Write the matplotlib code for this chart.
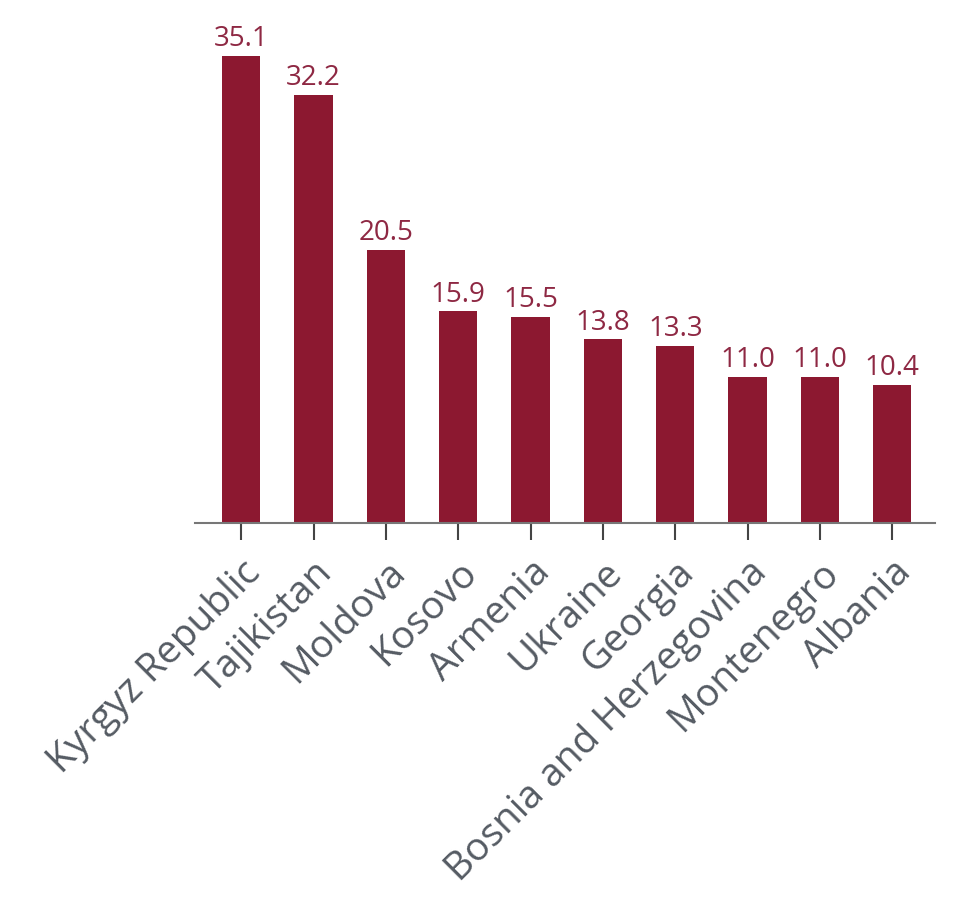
import matplotlib
matplotlib.use("Agg")
import matplotlib.pyplot as plt

countries = [
    "Kyrgyz Republic", "Tajikistan", "Moldova", "Kosovo", "Armenia",
    "Ukraine", "Georgia", "Bosnia and Herzegovina", "Montenegro", "Albania",
]
values = [35.1, 32.2, 20.5, 15.9, 15.5, 13.8, 13.3, 11.0, 11.0, 10.4]

BAR_COLOR = "#8C1830"
LABEL_COLOR = "#8E2843"
TEXT_GREY = "#555B63"

plt.rcParams["font.family"] = ["Open Sans", "DejaVu Sans"]

fig = plt.figure(figsize=(9.8, 9.19), dpi=100)
ax = fig.add_axes([0.199, 0.431, 0.755, 0.55])

x = range(len(countries))
ax.bar(x, values, width=0.53, color=BAR_COLOR)
for xi, v in zip(x, values):
    ax.annotate(f"{v:.1f}", (xi, v), xytext=(0, 2), textcoords="offset points",
                ha="center", va="bottom", fontsize=20, color=LABEL_COLOR)

ax.set_xlim(-0.64, 9.59)
ax.set_ylim(0, 38)
ax.set_xticks(list(x))
ax.set_xticklabels(countries, rotation=45, ha="right", rotation_mode="anchor",
                   fontsize=28, color=TEXT_GREY)
ax.tick_params(axis="x", length=12, width=1.5, color="#444444", pad=10)
ax.set_yticks([])
for side in ["left", "right", "top"]:
    ax.spines[side].set_visible(False)
ax.spines["bottom"].set_color("#777777")
ax.spines["bottom"].set_linewidth(1.5)

fig.savefig("out.png", dpi=100)
